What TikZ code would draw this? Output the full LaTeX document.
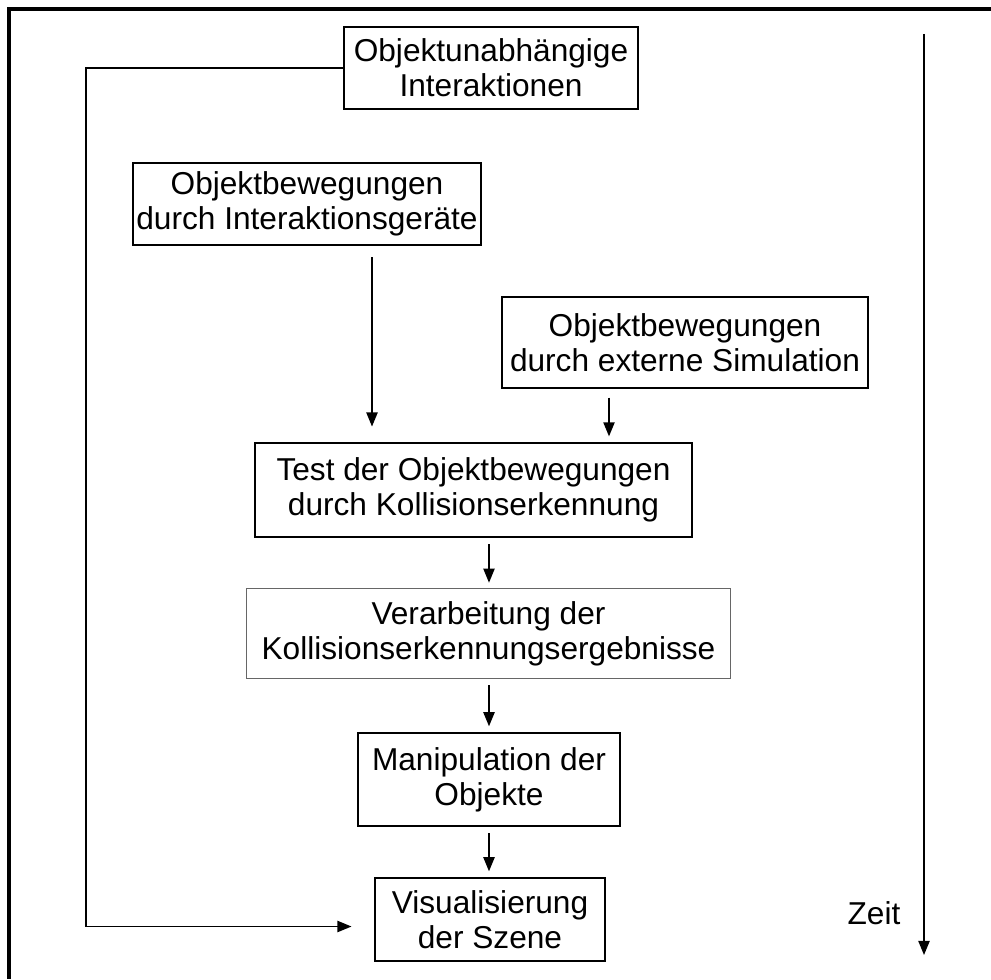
\documentclass[tikz,border=0pt]{standalone}
\usepackage{fontspec}
\setmainfont{Liberation Sans}
\usetikzlibrary{arrows.meta,calc}

\begin{document}
\begin{tikzpicture}[x=0.025cm, y=-0.025cm,
    box/.style={draw, line width=1.4pt, align=center, inner sep=1pt, font=\fontsize{22.5}{25}\selectfont},
    thinbox/.style={box, draw=black!60, line width=0.8pt},
    flow/.style={-{Triangle[length=10pt,width=8pt]}, line width=1pt},
    frame/.style={line width=2.2pt}]
          \useasboundingbox (0,0) rectangle (991,979);
          \coordinate (z0) at (924,34);
          \coordinate (z1) at (924,955);
          \node[box, minimum width=7.35cm, minimum height=2.05cm] (inter) at (491,68) {Objektunabhängige\\Interaktionen};
          \node[box, minimum width=8.7cm, minimum height=2.05cm] (geraete) at (307,204) {Objektbewegungen\\durch Interaktionsgeräte};
          \node[box, minimum width=9.15cm, minimum height=2.28cm] (simul) at (685,342.5) {Objektbewegungen\\durch externe Simulation};
          \node[box, minimum width=10.93cm, minimum height=2.35cm] (test) at (473.5,490) {Test der Objektbewegungen\\durch Kollisionserkennung};
          \node[thinbox, minimum width=12.08cm, minimum height=2.23cm] (verarb) at (488.5,633.5) {Verarbeitung der\\Kollisionserkennungsergebnisse};
          \node[box, minimum width=6.55cm, minimum height=2.33cm] (manip) at (489,779.5) {Manipulation der\\Objekte};
          \node[box, minimum width=5.75cm, minimum height=2.08cm] (visual) at (490,919.5) {Visualisierung\\der Szene};
          \node[font=\fontsize{22.5}{25}\selectfont, inner sep=0pt] (zeit) at (874,913) {Zeit};
          \draw[frame] (991,9) -- (9,9) -- (9,979);
          \draw[flow, shorten <=8pt, shorten >=11pt] (372,0 |- geraete.south) -- (372,0 |- test.north);
          \draw[flow, shorten <=6pt, shorten >=4pt] (609,0 |- simul.south) -- (609,0 |- test.north);
          \foreach \a/\b in {test/verarb, verarb/manip, manip/visual}
          {
          \draw[flow, shorten <=4.5pt, shorten >=4pt] (489,0 |- \a.south) -- (489,0 |- \b.north);
          }
          \draw[flow, shorten >=16pt] (inter.west) -- (86,0 |- inter.west) |- ($(visual.west)+(0,7)$);
          \draw[flow] (z0) -- (z1);
        \end{tikzpicture}
\end{document}
